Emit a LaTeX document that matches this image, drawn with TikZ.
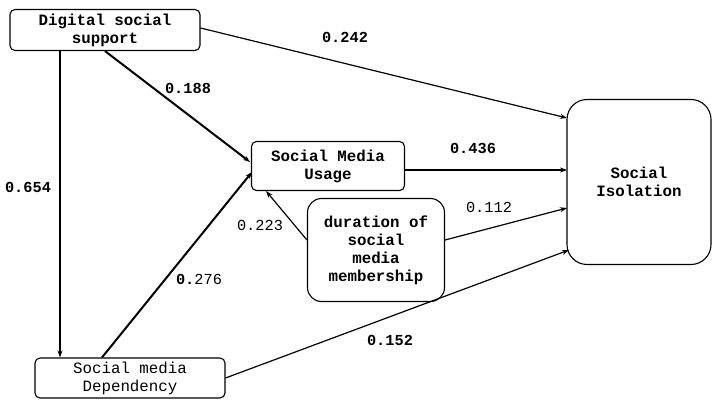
\documentclass[tikz,border=0pt]{standalone}
\usepackage{fontspec}
\setmonofont{Liberation Mono}
\usepackage{tikz}
\usetikzlibrary{arrows.meta,positioning}

\begin{document}
\begin{tikzpicture}[
  x=1pt,y=-1pt,
  font=\ttfamily\bfseries\fontsize{15.8}{18}\selectfont,
  box/.style={draw,line width=1.1pt,rounded corners=5pt,align=center,
              inner sep=2pt},
  path/.style={line width=1.2pt,-{Stealth[length=7pt,width=5pt]}},
  heavy/.style={path,line width=2pt},
  wt/.style={font=\ttfamily\bfseries\fontsize{15.3}{17}\selectfont},
  wtn/.style={font=\ttfamily\mdseries\fontsize{15.3}{17}\selectfont}
]
\useasboundingbox (0,0) rectangle (713,401);
\node[box,minimum width=190pt,minimum height=41pt] (dss) at (105,30)
  {Digital social\\support};
\node[box,minimum width=153pt,minimum height=49pt] (smu) at (328,166)
  {Social Media\\Usage};
\node[box,rounded corners=14pt,minimum width=137pt,minimum height=103pt]
  (dur) at (376,250) {duration of\\social\\media\\membership};
\node[box,rounded corners=20pt,minimum width=144pt,minimum height=165pt]
  (iso) at (639,182) {Social\\Isolation};
\node[box,font=\ttfamily\fontsize{15.8}{18}\selectfont,
      minimum width=190pt,minimum height=40pt] (dep) at (130,378)
  {Social media\\Dependency};

\coordinate (iso1) at (567,118);
\coordinate (iso2) at (567,170);
\coordinate (iso3) at (567,208);
\coordinate (iso4) at (569,250);
\coordinate (smu1) at (250,162);
\coordinate (smu2) at (252,172);
\coordinate (smu3) at (266,191);

\draw[path] (dss.east) ++(0,-2) -- (iso1);
\draw[heavy] (dss.south) ++(0,0) -- (smu1);
\draw[heavy] (dss.south -| 60,0) -- (dep.north -| 60,0);
\draw[heavy] (dep.north -| 102,0) -- (smu2);
\draw[path] (dur.west) ++(0,-10) -- (smu3);
\draw[path] (dur.east) ++(0,-10) -- (iso3);
\draw[path] (smu.east) ++(0,4) -- (iso2);
\draw[path] (dep.east) ++(0,0) -- (iso4);

\node[wt] (l242) at (345,37) {0.242};
\node[wt] (l188) at (188,88) {0.188};
\node[wt] (l654) at (28,187) {0.654};
\node[wtn] (l276) at (199,279) {\textbf{0.}276};
\node[wtn] (l223) at (260,225) {0.223};
\node[wtn] (l112) at (489,207) {0.112};
\node[wt] (l436) at (473,148) {0.436};
\node[wt] (l152) at (390,340) {0.152};
\end{tikzpicture}
\end{document}
